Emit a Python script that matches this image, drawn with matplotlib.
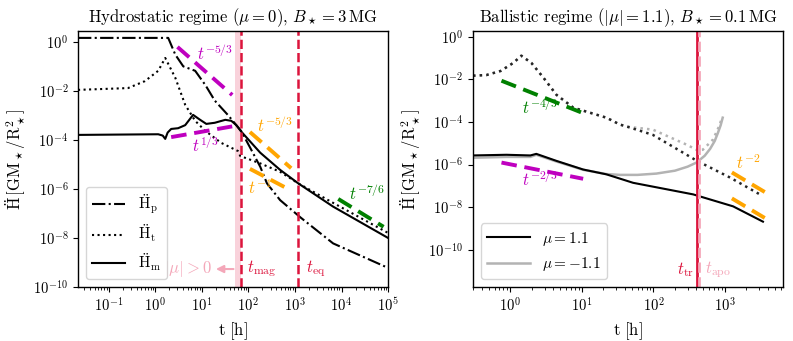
import matplotlib
matplotlib.use("Agg")
import matplotlib.pyplot as plt
import numpy as np

plt.rcParams.update({
    "font.family": ["cmr10"],
    "mathtext.fontset": "cm",
    "axes.formatter.use_mathtext": True,
    "axes.unicode_minus": False,
    "font.size": 11,
    "xtick.labelsize": 10.5,
    "ytick.labelsize": 10.5,
    "axes.linewidth": 1.0,
})

CRIMSON = "#DC143C"
PINK = "#F4A7B9"
GREY = "0.7"

# ---- left panel: hydrostatic regime ----
t_p = [0.022, 1.9, 2.7, 4.0, 7.2, 12, 19, 37, 70, 108, 180, 250, 480, 1300, 6600, 1e5]
H_p = [1.45, 1.45, 0.3, 0.1, 0.066, 0.017, 4e-3, 1e-3, 2.3e-4, 5e-5, 8e-6, 1.7e-6,
       3.5e-7, 7e-8, 6e-9, 6e-10]

t_t = [0.022, 0.26, 0.6, 1.16, 1.64, 2.7, 4.4, 7.2, 12, 26, 60, 67, 180, 480, 1170,
       6600, 1e5]
H_t = [0.011, 0.013, 0.025, 0.066, 0.22, 0.034, 2.7e-3, 6e-4, 2.3e-4, 7.6e-5, 3.5e-5,
       2.2e-5, 1.1e-5, 5e-6, 1.7e-6, 2.7e-7, 1.6e-8]

t_m = [0.022, 1.16, 1.45, 1.64, 1.85, 2.2, 3.1, 4.4, 6.5, 9.2, 12.5, 19, 32, 43, 55, 70,
       180, 480, 1170, 6600, 1e5]
H_m = [1.6e-4, 1.7e-4, 1.5e-4, 1.1e-4, 2.0e-4, 2.8e-4, 3e-4, 4e-4, 1.05e-3, 6.6e-4,
       4.5e-4, 5e-4, 6.6e-4, 6e-4, 4e-4, 2.2e-4, 3e-5, 6e-6, 1.7e-6, 1.9e-7, 1e-8]

t_mag = 70
t_eq = 1170
mag_band = (52, 70)

# power-law guides: (t_start, t_end, H_start, exponent, colour, label, label_t, label_H)
guides_left = [
    (3.0, 45, 0.62, -5 / 3, "m", r"$t^{-5/3}$", 19, 0.33),
    (2.2, 45, 1.3e-4, 1 / 3, "m", r"$t^{1/3}$", 12, 6.3e-5),
    (108, 830, 2.1e-4, -5 / 3, "orange", r"$t^{-5/3}$", 375, 4e-4),
    (108, 830, 6.6e-6, -1.0, "orange", r"$t^{-1}$", 180, 1.1e-6),
    (8500, 8e4, 3.9e-7, -7 / 6, "green", r"$t^{-7/6}$", 3.5e4, 6.9e-7),
]

# ---- right panel: ballistic regime ----
t_t_pos = [0.3, 0.46, 0.73, 1.1, 1.42, 1.96, 2.9, 4.4, 7.6, 22, 34, 47, 98, 400,
           1170, 3300]
H_t_pos = [0.015, 0.016, 0.025, 0.06, 0.13, 0.06, 0.012, 1.9e-3, 4.7e-4, 1.6e-4,
           7.6e-5, 5.5e-5, 2.5e-5, 1.55e-6, 2.5e-7, 3.5e-8]

t_t_neg = [0.3, 0.46, 0.73, 1.1, 1.42, 1.96, 2.9, 4.4, 7.6, 22, 34, 47, 98, 290, 420,
           490, 680, 850, 900]
H_t_neg = [0.015, 0.016, 0.025, 0.06, 0.13, 0.06, 0.012, 1.9e-3, 4.7e-4, 1.6e-4,
           7.6e-5, 5.8e-5, 4.4e-5, 8.7e-6, 4.6e-6, 5e-6, 1.5e-5, 7.6e-5, 1.6e-4]

t_m_pos = [0.3, 0.88, 1.9, 2.3, 4.4, 10.4, 22, 52, 360, 1300, 3400]
H_m_pos = [2.7e-6, 2.9e-6, 2.7e-6, 3.2e-6, 1.5e-6, 5.9e-7, 3.5e-7, 1.4e-7, 4e-8,
           1.1e-8, 2.1e-9]

t_m_neg = [0.3, 0.88, 1.9, 2.3, 4.4, 10.4, 22, 34, 60, 110, 200, 300, 400, 520, 620,
           720, 800, 870, 930]
H_m_neg = [2.1e-6, 2.3e-6, 2.3e-6, 2.9e-6, 1.4e-6, 5.7e-7, 3.6e-7, 3.3e-7, 3.3e-7,
           3.8e-7, 5.2e-7, 8e-7, 1.25e-6, 2.6e-6, 5.5e-6, 1.3e-5, 3.2e-5, 7e-5, 1.6e-4]

t_tr = 405
t_apo = 435

guides_right = [
    (0.75, 10.4, 8.7e-3, -4 / 3, "green", r"$t^{-4/3}$", 2.6, 4.7e-4),
    (0.75, 10.4, 1.25e-6, -2 / 3, "m", r"$t^{-2/3}$", 2.6, 2e-7),
    (1250, 3600, 4.3e-7, -2.0, "orange", r"$t^{-2}$", 2100, 1.3e-6),
    (1250, 3600, 2.6e-8, -2.0, "orange", None, None, None),
]


def draw_guides(ax, guides):
    for t0, t1, h0, k, c, lab, lt, lh in guides:
        tt = np.array([t0, t1])
        ax.loglog(tt, h0 * (tt / t0) ** k, color=c, lw=2.8, ls=(0, (4, 2)))
        if lab:
            ax.text(lt, lh, lab, color=c, fontsize=12, ha="center", va="center")


fig = plt.figure(figsize=(7.93, 3.41), dpi=100)
ax1 = fig.add_axes([0.0984, 0.1584, 0.391, 0.751])
ax2 = fig.add_axes([0.5965, 0.1584, 0.391, 0.751])

# left
ax1.axvspan(*mag_band, color=PINK, alpha=0.5, lw=0)
ax1.loglog(t_p, H_p, color="k", ls="-.", lw=1.5, label=r"$\ddot{\mathrm{H}}_\mathrm{p}$")
ax1.loglog(t_t, H_t, color="k", ls=":", lw=1.5, label=r"$\ddot{\mathrm{H}}_\mathrm{t}$")
ax1.loglog(t_m, H_m, color="k", ls="-", lw=1.5, label=r"$\ddot{\mathrm{H}}_\mathrm{m}$")
draw_guides(ax1, guides_left)
ax1.axvline(t_mag, color=CRIMSON, ls="--", lw=1.8)
ax1.axvline(t_eq, color=CRIMSON, ls="--", lw=1.8)
ax1.text(94, 5.4e-10, r"$t_\mathrm{mag}$", color=CRIMSON, fontsize=12, va="center")
ax1.text(1700, 5.4e-10, r"$t_\mathrm{eq}$", color=CRIMSON, fontsize=12, va="center")
ax1.text(16.5, 5.4e-10, r"$|\mu|>0$", color=PINK, fontsize=12, ha="right", va="center")
ax1.annotate("", xy=(17.5, 5.4e-10), xytext=(55, 5.4e-10),
             arrowprops=dict(arrowstyle="-|>", color=PINK, lw=1.5))
ax1.set_xlim(0.022, 1e5)
ax1.set_ylim(1e-10, 2.8)
ax1.set_yticks([1e0, 1e-2, 1e-4, 1e-6, 1e-8, 1e-10])
ax1.set_xlabel(r"$\mathrm{t\ [h]}$", fontsize=12)
ax1.set_ylabel(r"$\ddot{\mathrm{H}}\,[\mathrm{GM_\star/R_\star^2}]$", fontsize=12)
ax1.set_title(r"Hydrostatic regime ($\mu=0$), $B_\star=3\,\mathrm{MG}$", fontsize=12)
ax1.legend(loc="lower left", fontsize=11, handlelength=2.2)

# right
ax2.loglog(t_t_neg, H_t_neg, color=GREY, ls=":", lw=1.8)
ax2.loglog(t_t_pos, H_t_pos, color="0.15", ls=":", lw=1.8)
ax2.loglog(t_m_neg, H_m_neg, color=GREY, ls="-", lw=1.8, label=r"$\mu=-1.1$")
ax2.loglog(t_m_pos, H_m_pos, color="k", ls="-", lw=1.5, label=r"$\mu=1.1$")
draw_guides(ax2, guides_right)
ax2.axvline(t_tr, color=CRIMSON, ls="-", lw=2)
ax2.axvline(t_apo, color=PINK, ls="--", lw=2)
ax2.text(370, 1.2e-11, r"$t_\mathrm{tr}$", color=CRIMSON, fontsize=12, ha="right", va="center")
ax2.text(530, 1.2e-11, r"$t_\mathrm{apo}$", color=PINK, fontsize=12, va="center")
ax2.set_xlim(0.3, 6500)
ax2.set_ylim(1.8e-12, 1.9)
ax2.set_yticks([1e0, 1e-2, 1e-4, 1e-6, 1e-8, 1e-10])
ax2.set_xlabel(r"$\mathrm{t\ [h]}$", fontsize=12)
ax2.set_ylabel(r"$\ddot{\mathrm{H}}\,[\mathrm{GM_\star/R_\star^2}]$", fontsize=12)
ax2.set_title(r"Ballistic regime ($|\mu|=1.1$), $B_\star=0.1\,\mathrm{MG}$", fontsize=12)
handles, labels = ax2.get_legend_handles_labels()
ax2.legend(handles[::-1], labels[::-1], loc="lower left", fontsize=11, handlelength=2.8)

fig.savefig("out.png", dpi=100)
